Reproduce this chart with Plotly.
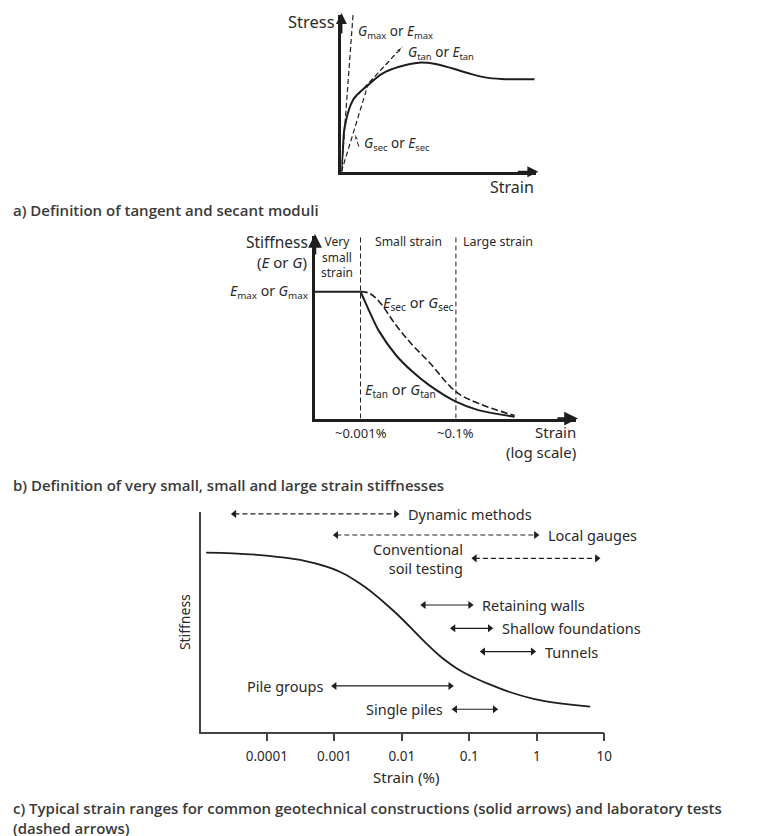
import numpy as np
import plotly.graph_objects as go

W, H = 767, 836
OFF = 8  # the page body keeps an 8px margin around the plot
FW, FH = W - OFF, H - OFF
INK = "#1e1e1e"
TXT = "#2a2a2a"
FONT = "Noto Sans, DejaVu Sans, sans-serif"
CAP_FONT = "Open Sans, sans-serif"

# ---- a) stress-strain curve (arbitrary units) ----
a_strain = [0, 0.008, 0.017, 0.06, 0.128, 0.214, 0.299, 0.402, 0.487, 0.573, 0.658, 0.744, 0.829, 1.0]
a_stress = [0, 0.15, 0.287, 0.458, 0.542, 0.628, 0.670, 0.696, 0.687, 0.660, 0.628, 0.602, 0.592, 0.590]
a_gmax_x, a_gmax_y = [0, 0.06], [0, 1.0]
a_sec_x, a_sec_y = [0, 0.137], [0, 0.553]
a_tan_x, a_tan_y = [0.06, 0.316], [0.458, 0.798]
a_lead_x, a_lead_y = [0.09, 0.068], [0.16, 0.245]

# ---- b) stiffness vs strain (log scale, %) ----
b_plateau_strain = [1.1e-4, 1e-3]
b_plateau_stiff = [0.695, 0.695]
b_tan_strain = [1e-3, 1.12e-3, 1.54e-3, 2.48e-3, 5.51e-3, 0.0122, 0.0270, 0.1, 0.294, 1.70]
b_tan_stiff = [0.695, 0.667, 0.586, 0.476, 0.348, 0.257, 0.184, 0.092, 0.046, 0.010]
b_sec_strain = [1e-3, 1.54e-3, 2.48e-3, 5.51e-3, 0.0122, 0.0270, 0.1, 0.294, 1.70]
b_sec_stiff = [0.695, 0.686, 0.640, 0.512, 0.403, 0.311, 0.147, 0.083, 0.016]
b_bounds = [0.001, 0.1]
b_bound_labels = ["~0.001%", "~0.1%"]

# ---- c) typical strain ranges ----
c_strain = [1.26e-5, 1.42e-4, 7.66e-4, 2.36e-3, 7.3e-3, 0.0224, 0.0394, 0.069, 0.121, 0.213, 0.373, 1.15, 6.2]
c_stiff = [0.814, 0.795, 0.75, 0.675, 0.553, 0.405, 0.336, 0.283, 0.244, 0.212, 0.183, 0.142, 0.114]
c_ticks = [1e-4, 1e-3, 0.01, 0.1, 1, 10]
c_ticktext = ["0.0001", "0.001", "0.01", "0.1", "1", "10"]

# laboratory tests (dashed arrows)
c_tests = ["Dynamic methods", "Local gauges", "Conventional<br>soil testing"]
c_test_lo = [3.3e-5, 1.07e-3, 0.121]
c_test_hi = [8.2e-3, 0.97, 7.8]
c_test_row = [0.99, 0.894, 0.788]
c_test_side = ["right", "right", "left"]

# constructions (solid arrows)
c_cons = ["Retaining walls", "Shallow foundations", "Tunnels", "Pile groups", "Single piles"]
c_cons_lo = [0.0212, 0.0583, 0.161, 1.01e-3, 0.0618]
c_cons_hi = [0.103, 0.201, 0.87, 0.0522, 0.238]
c_cons_row = [0.576, 0.47, 0.364, 0.208, 0.102]
c_cons_side = ["right", "right", "right", "left", "left"]


def fx(px):
    return (px - OFF) / FW


def fy(py):
    return 1 - (py - OFF) / FH


def note(text, x, y, xanchor="center", size=12, xref="paper", yref="paper", **kw):
    return dict(text=text, x=x, y=y, xref=xref, yref=yref, xanchor=xanchor,
                yanchor="middle", showarrow=False,
                font=dict(family=FONT, size=size, color=TXT), **kw)


def tip(xp, yp, ax, ay, width=2):
    return dict(text="", x=fx(xp), y=fy(yp), xref="paper", yref="paper",
                ax=ax, ay=ay, showarrow=True, arrowhead=2, arrowsize=1.1,
                arrowwidth=width, arrowcolor=INK)


fig = go.Figure()

# panel a
fig.add_trace(go.Scatter(x=a_strain, y=a_stress, mode="lines", line=dict(color=INK, width=2, shape="spline"),
                         xaxis="x", yaxis="y"))
for xs, ys in [(a_gmax_x, a_gmax_y), (a_sec_x, a_sec_y), (a_tan_x, a_tan_y)]:
    fig.add_trace(go.Scatter(x=xs, y=ys, mode="lines", line=dict(color=INK, width=1.2, dash="5px,3px"),
                             xaxis="x", yaxis="y"))
for xs, ys in [(a_tan_x, a_tan_y), (a_lead_x, a_lead_y)]:
    fig.add_trace(go.Scatter(x=xs, y=ys, mode="lines+markers", line=dict(color=INK, width=1, dash="5px,3px"),
                             marker=dict(symbol="arrow", size=[0, 7], angleref="previous", color=INK),
                             xaxis="x", yaxis="y", cliponaxis=False))

# panel b
fig.add_trace(go.Scatter(x=b_plateau_strain, y=b_plateau_stiff, mode="lines",
                         line=dict(color=INK, width=2), xaxis="x2", yaxis="y2"))
fig.add_trace(go.Scatter(x=b_tan_strain, y=b_tan_stiff, mode="lines",
                         line=dict(color=INK, width=2, shape="spline"), xaxis="x2", yaxis="y2"))
fig.add_trace(go.Scatter(x=b_sec_strain, y=b_sec_stiff, mode="lines",
                         line=dict(color=INK, width=1.6, dash="7px,3px", shape="spline"), xaxis="x2", yaxis="y2"))
for b in b_bounds:
    fig.add_trace(go.Scatter(x=[b, b], y=[0, 1], mode="lines", line=dict(color=INK, width=1, dash="5px,3px"),
                             xaxis="x2", yaxis="y2"))

# panel c
fig.add_trace(go.Scatter(x=c_strain, y=c_stiff, mode="lines",
                         line=dict(color=INK, width=1.8, shape="spline", smoothing=1.2),
                         xaxis="x3", yaxis="y3"))


def range_arrow(lo, hi, row, dash):
    fig.add_trace(go.Scatter(x=[lo, hi], y=[row, row], mode="lines",
                             line=dict(color=INK, width=1.2, dash=dash), xaxis="x3", yaxis="y3"))
    fig.add_trace(go.Scatter(x=[lo, hi], y=[row, row], mode="markers", cliponaxis=False,
                             marker=dict(symbol=["triangle-left", "triangle-right"], size=7, color=INK),
                             xaxis="x3", yaxis="y3"))


LBL = 14.5
annotations = []
for name, lo, hi, row, side in zip(c_tests, c_test_lo, c_test_hi, c_test_row, c_test_side):
    range_arrow(lo, hi, row, "5px,3px")
    if side == "right":
        annotations.append(note(name, np.log10(hi), row, "left", LBL, "x3", "y3", xshift=10))
    else:
        annotations.append(note(name, np.log10(lo), row, "right", LBL, "x3", "y3", xshift=-10, align="right"))
for name, lo, hi, row, side in zip(c_cons, c_cons_lo, c_cons_hi, c_cons_row, c_cons_side):
    range_arrow(lo, hi, row, "solid")
    if side == "right":
        annotations.append(note(name, np.log10(hi), row, "left", LBL, "x3", "y3", xshift=10))
    else:
        annotations.append(note(name, np.log10(lo), row, "right", LBL, "x3", "y3", xshift=-10))

# panel a labels
annotations += [
    note("Stress", fx(341), fy(21.7), "right", 16.5),
    note("Strain", fx(542), fy(186.7), "right", 16),
    note("<i>G</i><sub>max</sub> or <i>E</i><sub>max</sub>", fx(360), fy(31.7), "left", 13.5),
    note("<i>G</i><sub>tan</sub> or <i>E</i><sub>tan</sub>", fx(410), fy(53.3), "left", 13.5),
    note("<i>G</i><sub>sec</sub> or <i>E</i><sub>sec</sub>", fx(366), fy(144), "left", 13.5),
    tip(345, 13, 0, 22), tip(544, 171.7, -22, 0),
]
# panel b labels
annotations += [
    note("Stiffness", fx(313), fy(241.7), "right", 15.5),
    note("(<i>E</i> or <i>G</i>)", fx(312), fy(261.7), "right", 15),
    note("<i>E</i><sub>max</sub> or <i>G</i><sub>max</sub>", fx(313.5), fy(291.7), "right", 14),
    note("Very<br>small<br>strain", fx(341), fy(256.7), "center", 12),
    note("Small strain", fx(412.5), fy(241.7), "center", 12.2),
    note("Large strain", fx(503), fy(241.7), "center", 12.5),
    note("<i>E</i><sub>sec</sub> or <i>G</i><sub>sec</sub>", fx(385), fy(303.3), "left", 14.5),
    note("<i>E</i><sub>tan</sub> or <i>G</i><sub>tan</sub>", fx(366.5), fy(390), "left", 14.5),
    note("Strain<br>(log scale)", fx(584), fy(442.4), "right", 15, align="right"),
    tip(318.3, 234, 0, 22, 2.5), tip(584, 418.5, -22, 0, 2.5),
]
for b, lab in zip(b_bounds, b_bound_labels):
    annotations.append(note(lab, np.log10(b), fy(433), "center", 13, "x2", "paper"))
# panel c labels
annotations += [
    note("Stiffness", fx(186), fy(622), "center", 14, textangle=-90),
    note("Strain (%)", fx(410), fy(776.7), "center", 15),
]
# captions
cap = dict(family=CAP_FONT, size=15, color="#3a3a3a", weight=600)
for text, y in [("a) Definition of tangent and secant moduli", 210),
                ("b) Definition of very small, small and large strain stiffnesses", 485),
                ("c) Typical strain ranges for common geotechnical constructions (solid arrows) and laboratory tests"
                 "<br>(dashed arrows)", 818)]:
    annotations.append(dict(text=text, x=fx(11), y=fy(y), xref="paper", yref="paper", xanchor="left",
                            yanchor="middle", align="left", showarrow=False, font=cap))

hidden = dict(showgrid=False, zeroline=False, showticklabels=False, ticks="")
fig.update_layout(
    width=FW, height=FH, margin=dict(l=0, r=0, t=0, b=0),
    paper_bgcolor="white", plot_bgcolor="white", showlegend=False,
    xaxis=dict(domain=[fx(345), fx(542)], range=[0, 1.01], anchor="y",
               showline=True, linecolor=INK, linewidth=2.5, **hidden),
    yaxis=dict(domain=[fy(171.7), fy(15)], range=[0, 1], anchor="x",
               showline=True, linecolor=INK, linewidth=2.5, **hidden),
    xaxis2=dict(domain=[fx(318.3), fx(582)], type="log", range=[-3.954, 1.517], anchor="y2",
                showline=True, linecolor=INK, linewidth=3, **hidden),
    yaxis2=dict(domain=[fy(418.5), fy(236)], range=[0, 1], anchor="x2",
                showline=True, linecolor=INK, linewidth=3, **hidden),
    xaxis3=dict(domain=[fx(203.3), fx(610.7)], type="log", range=[-4.973, 1.002], anchor="y3",
                showline=True, linecolor="#444", linewidth=1.5, showgrid=False, zeroline=False,
                tickmode="array", tickvals=c_ticks, ticktext=c_ticktext,
                ticks="outside", ticklen=8, tickwidth=1.5, tickcolor="#444", ticklabelstandoff=3,
                tickfont=dict(family=FONT, size=13.5, color=TXT)),
    yaxis3=dict(domain=[fy(731.7), fy(511.7)], range=[0, 1], anchor="x3",
                showline=True, linecolor="#444", linewidth=1.5, **hidden),
    annotations=annotations,
)

fig.write_html("out.html")
